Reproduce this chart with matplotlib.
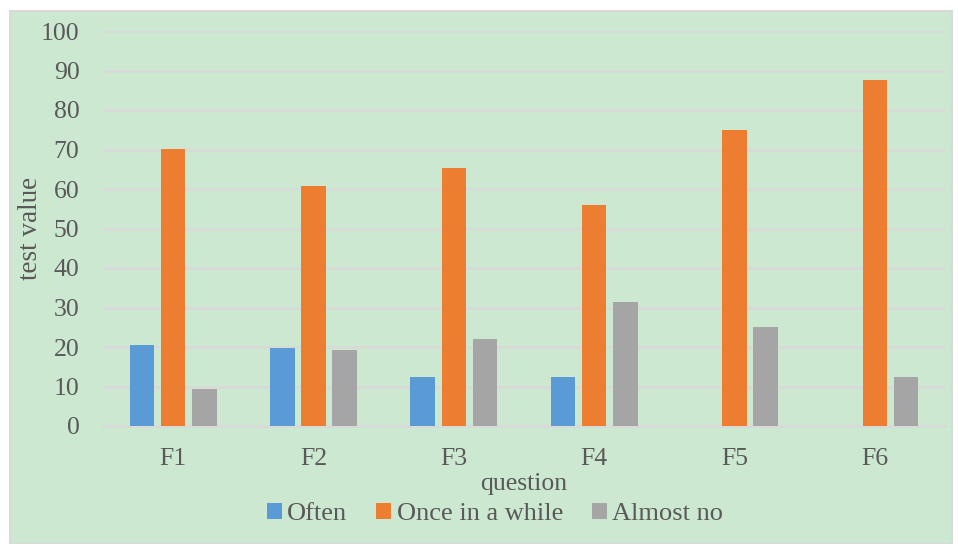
import matplotlib.pyplot as plt
import numpy as np
from matplotlib.patches import Rectangle

plt.rcParams['font.family'] = ['Liberation Serif', 'DejaVu Serif']

categories = ['F1', 'F2', 'F3', 'F4', 'F5', 'F6']
series_names = ['Often', 'Once in a while', 'Almost no']
often = [20.4, 19.7, 12.5, 12.5, 0, 0]
once_in_a_while = [70.2, 60.8, 65.3, 55.9, 75.0, 87.5]
almost_no = [9.3, 19.2, 22.1, 31.5, 25.0, 12.5]
yticks = [0, 10, 20, 30, 40, 50, 60, 70, 80, 90, 100]

colors = ['#5b9bd5', '#ed7d31', '#a5a5a5']
text_color = '#595959'
grid_color = '#d9d9d9'
bg = '#cce8d0'

W, H = 958, 544
fig = plt.figure(figsize=(W / 100, H / 100), dpi=100)
fig.patch.set_facecolor('white')

# green chart area with thin gray border
fig.patches.append(Rectangle((10 / W, 0), 942 / W, (H - 11) / H, transform=fig.transFigure,
                             facecolor=bg, edgecolor=grid_color, linewidth=1.5, zorder=-5))

ax = fig.add_axes([103 / W, (H - 426) / H, 842 / W, 395 / H])
ax.set_facecolor('none')
ax.set_zorder(2)

x = np.arange(len(categories))
width = 0.175
step = 0.222
for i, (vals, name) in enumerate(zip([often, once_in_a_while, almost_no], series_names)):
    ax.bar(x + (i - 1) * step, vals, width, color=colors[i], label=name, zorder=3)

ax.set_xlim(-0.5, len(categories) - 0.5)
ax.set_ylim(0, 100)
ax.set_yticks(yticks)
ax.set_xticks(x)
ax.set_xticklabels(categories)
ax.yaxis.grid(True, color=grid_color, linewidth=1.8, zorder=0)
ax.set_axisbelow(True)
for s in ['top', 'right', 'left']:
    ax.spines[s].set_visible(False)
ax.spines['bottom'].set_color(grid_color)
ax.spines['bottom'].set_linewidth(1.8)
ax.tick_params(axis='both', length=0, labelsize=18.5, colors=text_color)
ax.tick_params(axis='x', pad=16)
ax.tick_params(axis='y', pad=17)

ax.set_xlabel('question', fontsize=18.5, color=text_color, labelpad=2)
ax.set_ylabel('test value', fontsize=19.5, color=text_color)
ax.yaxis.set_label_coords(-0.0713, 0.5)

fig.legend(loc='center', bbox_to_anchor=(495 / W, 1 - 514 / H), ncol=3, frameon=False,
           fontsize=19, labelcolor=text_color, handlelength=0.57, handleheight=0.57,
           handletextpad=0.2, columnspacing=1.1)

fig.savefig('out.png', dpi=100)
